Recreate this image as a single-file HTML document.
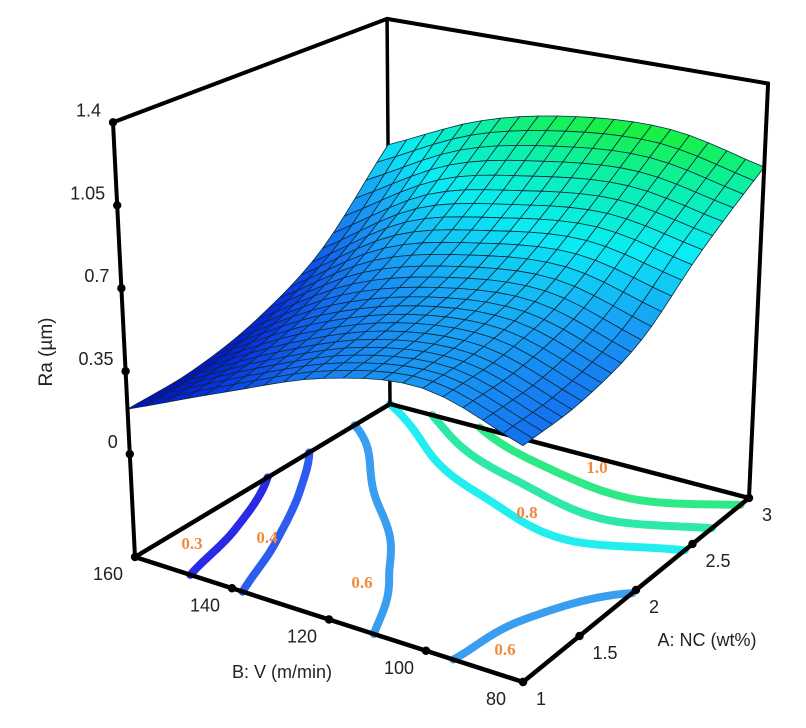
<!DOCTYPE html>
<html><head><meta charset="utf-8"><style>
html,body{margin:0;padding:0;background:#fff;}
svg{display:block;}
text{font-family:"Liberation Sans",sans-serif;}
</style></head>
<body>
<svg id="chart" width="806" height="728" viewBox="0 0 806 728" xmlns="http://www.w3.org/2000/svg">
<rect x="0" y="0" width="806" height="728" fill="#fff"/>
<g id="floor"></g>
<g id="back"></g>
<g id="surf"></g>
<g id="front"></g>
<text x="0" y="0" font-size="19" fill="#222" text-anchor="middle" transform="translate(52,352) rotate(-90)">Ra (µm)</text>
<text x="282" y="678" font-size="18" fill="#222" text-anchor="middle">B: V (m/min)</text>
<text x="707" y="646" font-size="18" fill="#222" text-anchor="middle">A: NC (wt%)</text>
</svg>
<script>
// ---- data ----
const aTicks = [1, 1.5, 2, 2.5, 3];
const vTicks = [160, 140, 120, 100, 80];
const zTicks = [0, 0.35, 0.7, 1.05, 1.4];
const zTickLabels = ["0", "0.35", "0.7", "1.05", "1.4"];
// Ra grid: rows follow vTicks (160..80), columns follow aTicks (1..3)
const raRowV160 = [0.19, 0.21, 0.29, 0.46, 0.80];
const raRowV140 = [0.38, 0.44, 0.55, 0.74, 1.00];
const raRowV120 = [0.55, 0.60, 0.68, 0.85, 1.10];
const raRowV100 = [0.62, 0.64, 0.72, 0.90, 1.12];
const raRowV80  = [0.50, 0.52, 0.61, 0.83, 1.03];
const contourLevels = [0.3, 0.4, 0.6, 0.8, 0.9, 1.0];
const contourColors = ["#2a2ae6", "#2c5cf0", "#3a9ef0", "#22eef0", "#2ee8a6", "#2eea86"];
const contourLabelText = ["0.3", "0.4", "0.6", "0.6", "0.8", "1.0"];
const contourLabelPos = [[192,549],[267,543],[362,588],[505,655],[527,518],[597,473]];

const grid = [raRowV160, raRowV140, raRowV120, raRowV100, raRowV80];
const NS = "http://www.w3.org/2000/svg";
const Lc = {x:135,y:557}, Bc = {x:390,y:404}, Fc = {x:523,y:682}, Rc = {x:749,y:498};
const zFloor = -0.434, zMax = 1.4;
const aMin = 1, aMax = 3, vMax = 160, vMin = 80;

function sOf(a){ return (a - aMin) / (aMax - aMin); }
function tOf(v){ return (vMax - v) / (vMax - vMin); }
function proj(s, t, z){
  const a=(1-s)*(1-t), b=s*(1-t), c=(1-s)*t, d=s*t;
  const px=a*Lc.x+b*Bc.x+c*Fc.x+d*Rc.x, py=a*Lc.y+b*Bc.y+c*Fc.y+d*Rc.y;
  const sc=a*237+b*210+c*253+d*226, dx=a*-12+b*-1.6+c*0+d*10.4;
  const h=z-zFloor;
  return [px+dx*h, py-sc*h];
}
function cr(p0,p1,p2,p3,u){
  return 0.5*((2*p1)+(-p0+p2)*u+(2*p0-5*p1+4*p2-p3)*u*u+(-p0+3*p1-3*p2+p3)*u*u*u);
}
function gv(r,c){
  const n=grid.length-1, m=grid[0].length-1;
  if(r<0) return 2*gv(0,c)-gv(1,c);
  if(r>n) return 2*gv(n,c)-gv(n-1,c);
  if(c<0) return 2*gv(r,0)-gv(r,1);
  if(c>m) return 2*gv(r,m)-gv(r,m-1);
  return grid[r][c];
}
function ra(s,t){
  const x=s*(aTicks.length-1), y=t*(vTicks.length-1);
  let c=Math.min(Math.floor(x),aTicks.length-2), r=Math.min(Math.floor(y),vTicks.length-2);
  const u=x-c, w=y-r;
  const rows=[];
  for(let k=-1;k<=2;k++) rows.push(cr(gv(r+k,c-1),gv(r+k,c),gv(r+k,c+1),gv(r+k,c+2),u));
  return cr(rows[0],rows[1],rows[2],rows[3],w);
}
const cmapZ=[0.15,0.35,0.5,0.65,0.82,0.98,1.15];
const cmapC=[[0,0,190],[10,50,230],[20,110,240],[25,160,245],[10,235,245],[10,240,170],[30,240,30]];
function color(z){
  if(z<=cmapZ[0]) return "rgb("+cmapC[0]+")";
  for(let i=1;i<cmapZ.length;i++){
    if(z<=cmapZ[i]){const f=(z-cmapZ[i-1])/(cmapZ[i]-cmapZ[i-1]);
      const c=cmapC[i-1].map((v,k)=>Math.round(v+(cmapC[i][k]-v)*f));return "rgb("+c+")";}
  }
  return "rgb("+cmapC[cmapC.length-1]+")";
}
function mk(tag, attrs, parent){
  const e=document.createElementNS(NS,tag);
  for(const k in attrs) e.setAttribute(k,attrs[k]);
  parent.appendChild(e); return e;
}
const floorG=document.getElementById('floor'), backG=document.getElementById('back'),
      surfG=document.getElementById('surf'), frontG=document.getElementById('front');

// ---- floor contours (marching squares) ----
const N=90;
const fv=[];
for(let j=0;j<=N;j++){const row=[];for(let i=0;i<=N;i++) row.push(ra(i/N,j/N)); fv.push(row);}
contourLevels.forEach((lev,li)=>{
  let d="";
  for(let j=0;j<N;j++) for(let i=0;i<N;i++){
    const c=[[i,j],[i+1,j],[i+1,j+1],[i,j+1]];
    const vals=c.map(p=>fv[p[1]][p[0]]);
    const pts=[];
    for(let k=0;k<4;k++){
      const v1=vals[k], v2=vals[(k+1)%4];
      if((v1<lev)!==(v2<lev)){
        const f=(lev-v1)/(v2-v1);
        const p1=c[k], p2=c[(k+1)%4];
        pts.push([(p1[0]+(p2[0]-p1[0])*f)/N,(p1[1]+(p2[1]-p1[1])*f)/N]);
      }
    }
    for(let k=0;k+1<pts.length;k+=2){
      const A=proj(pts[k][0],pts[k][1],zFloor), B=proj(pts[k+1][0],pts[k+1][1],zFloor);
      d+="M"+A[0].toFixed(1)+" "+A[1].toFixed(1)+"L"+B[0].toFixed(1)+" "+B[1].toFixed(1);
    }
  }
  const p=mk('path',{d:d,stroke:contourColors[li],'stroke-width':8,'stroke-linecap':'round',fill:'none'},floorG);
  
  
});
contourLabelText.forEach((tx,i)=>{
  const t=mk('text',{x:contourLabelPos[i][0],y:contourLabelPos[i][1],'font-size':17,'font-weight':'bold',fill:'#f08a3c','text-anchor':'middle',style:'font-family:"Liberation Serif",serif'},floorG);
  t.textContent=tx;
  
  
});

// ---- back edges ----
function line(p,q,w,parent,name){
  const l=mk('line',{x1:p[0],y1:p[1],x2:q[0],y2:q[1],stroke:'#000','stroke-width':w,'stroke-linecap':'round'},parent);
  
  
}
const pL0=proj(0,0,zFloor), pB0=proj(1,0,zFloor), pR0=proj(1,1,zFloor), pF0=proj(0,1,zFloor);
const pLt=proj(0,0,zMax), pBt=proj(1,0,zMax), pRt=proj(1,1,zMax);
line(pL0,pB0,4.5,backG,'floor-back-left-edge');
line(pB0,pR0,4.5,backG,'floor-back-right-edge');
line(pB0,pBt,3.5,backG,'back-vertical-edge');
line(pLt,pBt,4,backG,'top-left-edge');
line(pBt,pRt,4,backG,'top-right-edge');

// ---- surface ----
const MS=24, MT=20;
const quads=[];
for(let j=0;j<MT;j++) for(let i=0;i<MS;i++){
  const cs=[[i/MS,j/MT],[(i+1)/MS,j/MT],[(i+1)/MS,(j+1)/MT],[i/MS,(j+1)/MT]];
  const zs=cs.map(p=>ra(p[0],p[1]));
  const pts=cs.map((p,k)=>proj(p[0],p[1],zs[k]));
  const fl=proj((i+0.5)/MS,(j+0.5)/MT,zFloor);
  quads.push({pts:pts,z:(zs[0]+zs[1]+zs[2]+zs[3])/4,depth:fl[1]});
}
quads.sort((a,b)=>a.depth-b.depth);
quads.forEach(q=>{
  const p=mk('polygon',{points:q.pts.map(p=>p[0].toFixed(1)+","+p[1].toFixed(1)).join(" "),fill:color(q.z),stroke:'#0b2a3a','stroke-width':0.8,'stroke-linejoin':'round'},surfG);
  
  
});

// ---- front axes ----
line(pL0,pLt,4,frontG,'z-axis-line');
line(pR0,pRt,4,frontG,'right-vertical-edge');
line(pL0,pF0,4.5,frontG,'b-axis-line');
line(pF0,pR0,4.5,frontG,'a-axis-line');
function dot(p,parent,name){
  const c=mk('circle',{cx:p[0],cy:p[1],r:4.2,fill:'#000'},parent);
  
  
}
function label(x,y,txt,anchor,name){
  const t=mk('text',{x:x,y:y,'font-size':18,fill:'#222','text-anchor':anchor},frontG);
  t.textContent=txt;
  
  
}
zTicks.forEach((z,i)=>{
  const p=proj(0,0,z);
  dot(p,frontG,'z-tick');
  label(p[0]-12,p[1]-6,zTickLabels[i],'end','z-tick-label');
});
vTicks.forEach(v=>{
  const p=proj(0,tOf(v),zFloor);
  dot(p,frontG,'b-tick');
  label(p[0]-27,p[1]+23,String(v),'middle','b-tick-label');
});
aTicks.forEach(a=>{
  const p=proj(sOf(a),1,zFloor);
  dot(p,frontG,'a-tick');
  label(p[0]+13,p[1]+23,String(a),'start','a-tick-label');
});
</script>
</body></html>
